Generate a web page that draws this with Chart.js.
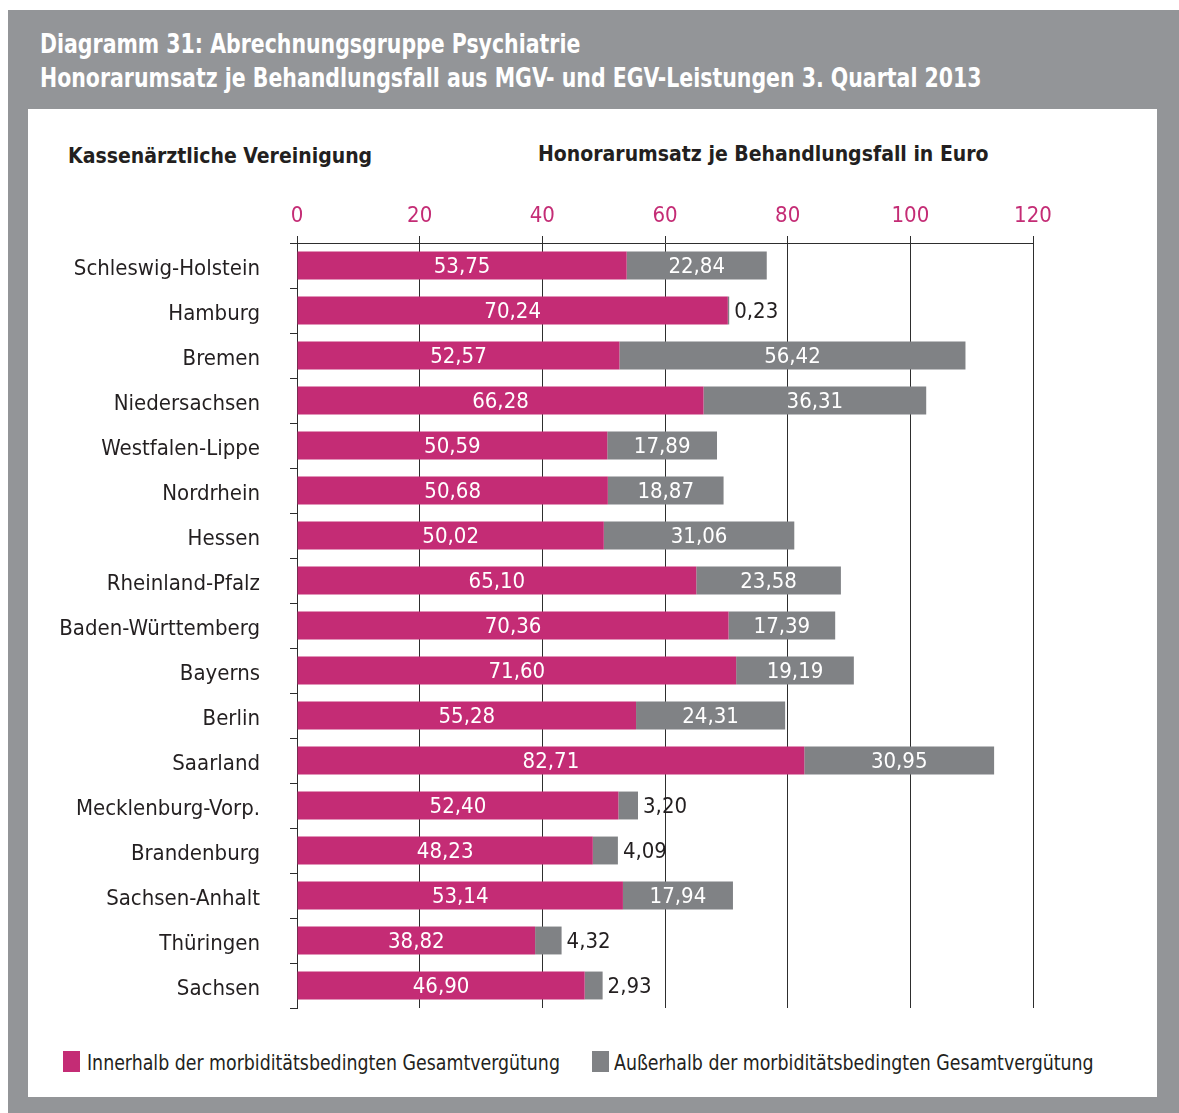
<!DOCTYPE html>
<html>
<head>
<meta charset="utf-8">
<script src="https://cdn.jsdelivr.net/npm/chart.js@4/dist/chart.umd.min.js"></script>
<style>
  body { margin: 0; background: #fff; width: 1179px; height: 1113px; position: relative; overflow: hidden;
         font-family: "DejaVu Sans Condensed", "DejaVu Sans", sans-serif; }
  #frame { position: absolute; left: 8px; top: 10px; width: 1171px; height: 1103px; background: #939598; }
  #panel { position: absolute; left: 28px; top: 109px; width: 1129px; height: 988px; background: #fff; }
  .t { position: absolute; white-space: nowrap; transform-origin: 0 50%; }
  #title { left: 40px; top: 27px; color: #fff; font-size: 26px; font-weight: bold; line-height: 34px; transform: scaleX(0.876); }
  .head { font-size: 22px; font-weight: bold; color: #231f20; line-height: 24px; transform: scaleX(0.955); }
  #wrap { position: absolute; left: 28px; top: 109px; width: 1129px; height: 920px; }
  .leg { font-size: 21px; color: #231f20; line-height: 22px; transform: scaleX(0.92); }
  .box { position: absolute; width: 17px; height: 21px; }
</style>
</head>
<body>
<div id="frame"></div>
<div id="panel"></div>
<div class="t" id="title">Diagramm 31: Abrechnungsgruppe Psychiatrie<br>Honorarumsatz je Behandlungsfall aus MGV- und EGV-Leistungen 3. Quartal 2013</div>
<div class="t head" style="left:68px;top:144px">Kassenärztliche Vereinigung</div>
<div class="t head" style="left:538px;top:142px">Honorarumsatz je Behandlungsfall in Euro</div>
<div id="wrap"><canvas id="chart"></canvas></div>
<div class="box" style="left:63px;top:1051px;background:#c42c75"></div>
<div class="t leg" style="left:87px;top:1052px">Innerhalb der morbiditätsbedingten Gesamtvergütung</div>
<div class="box" style="left:592px;top:1051px;background:#808285"></div>
<div class="t leg" style="left:614px;top:1052px">Außerhalb der morbiditätsbedingten Gesamtvergütung</div>
<script>
var regions = ['Schleswig-Holstein', 'Hamburg', 'Bremen', 'Niedersachsen', 'Westfalen-Lippe', 'Nordrhein', 'Hessen',
  'Rheinland-Pfalz', 'Baden-Württemberg', 'Bayerns', 'Berlin', 'Saarland', 'Mecklenburg-Vorp.', 'Brandenburg',
  'Sachsen-Anhalt', 'Thüringen', 'Sachsen'];
var innerhalb = [53.75, 70.24, 52.57, 66.28, 50.59, 50.68, 50.02, 65.10, 70.36, 71.60, 55.28, 82.71, 52.40, 48.23, 53.14, 38.82, 46.90];
var ausserhalb = [22.84, 0.23, 56.42, 36.31, 17.89, 18.87, 31.06, 23.58, 17.39, 19.19, 24.31, 30.95, 3.20, 4.09, 17.94, 4.32, 2.93];
var xTicks = [0, 20, 40, 60, 80, 100, 120];

var magenta = '#c42c75';
var grey = '#808285';
var dark = '#231f20';
var fontName = '"DejaVu Sans Condensed", "DejaVu Sans", sans-serif';

// value labels: white centered inside, dark to the right when the segment is too small
var valueLabels = {
  id: 'valueLabels',
  afterDatasetsDraw: function (chart) {
    var ctx = chart.ctx;
    ctx.save();
    ctx.font = '22px ' + fontName;
    ctx.textBaseline = 'middle';
    chart.data.datasets.forEach(function (ds, di) {
      var meta = chart.getDatasetMeta(di);
      meta.data.forEach(function (bar, i) {
        var v = ds.data[i];
        var txt = v.toFixed(2).replace('.', ',');
        var w = Math.abs(bar.x - bar.base);
        if (w > ctx.measureText(txt).width + 6) {
          ctx.fillStyle = '#fff';
          ctx.textAlign = 'center';
          ctx.fillText(txt, (bar.x + bar.base) / 2, bar.y + 2);
        } else {
          ctx.fillStyle = dark;
          ctx.textAlign = 'left';
          ctx.fillText(txt, bar.x + 5, bar.y + 2);
        }
      });
    });
    ctx.restore();
  }
};

new Chart(document.getElementById('chart').getContext('2d'), {
  type: 'bar',
  data: {
    labels: regions,
    datasets: [{
      label: 'Innerhalb der morbiditätsbedingten Gesamtvergütung',
      data: innerhalb,
      backgroundColor: magenta,
      barPercentage: 0.62,
      categoryPercentage: 1
    }, {
      label: 'Außerhalb der morbiditätsbedingten Gesamtvergütung',
      data: ausserhalb,
      backgroundColor: grey,
      barPercentage: 0.62,
      categoryPercentage: 1
    }]
  },
  options: {
    indexAxis: 'y',
    responsive: true,
    maintainAspectRatio: false,
    animation: false,
    layout: { padding: { left: 0, top: 0, right: 124, bottom: 21 } },
    plugins: { legend: { display: false }, tooltip: { enabled: false } },
    scales: {
      x: {
        position: 'top',
        stacked: true,
        min: 0,
        max: 120,
        afterBuildTicks: function (scale) {
          scale.ticks = xTicks.map(function (v) { return { value: v }; });
        },
        afterFit: function (scale) { scale.height = 134; },
        grid: { color: '#2e2e2e', lineWidth: 1, tickLength: 7 },
        border: { color: '#2e2e2e', width: 1 },
        ticks: { color: magenta, font: { family: fontName, size: 22 }, padding: 7 }
      },
      y: {
        stacked: true,
        afterFit: function (scale) {
          scale.width = 269;
          scale.paddingTop = 0;
          scale.paddingBottom = 0;
        },
        grid: { drawOnChartArea: false, offset: true, color: '#2e2e2e', tickLength: 7 },
        border: { color: '#2e2e2e', width: 1 },
        ticks: { color: dark, font: { family: fontName, size: 22 }, padding: 30, labelOffset: 4 }
      }
    }
  },
  plugins: [valueLabels]
});
</script>
</body>
</html>
